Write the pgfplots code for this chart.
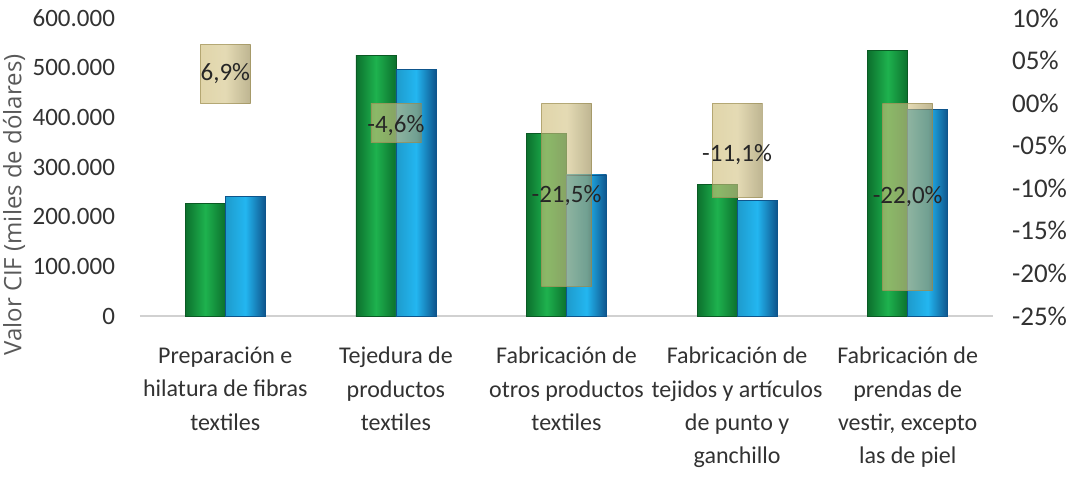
\documentclass[border=0pt]{standalone}
\usepackage{pgfplots}
\pgfplotsset{compat=1.18}
\usepackage{pgfplotstable}
\usepackage{fontspec}
\setmainfont{Carlito}
\newfontfamily\labfont{Open Sans}
\definecolor{gr}{RGB}{30,178,78}
\definecolor{grd}{RGB}{12,112,45}
\definecolor{bl}{RGB}{35,182,240}
\definecolor{bld}{RGB}{14,85,140}
\definecolor{kh}{RGB}{206,188,118}
\definecolor{khd}{RGB}{150,136,78}
\definecolor{tk}{RGB}{50,50,50}
\definecolor{lab}{RGB}{89,89,89}

\pgfplotstableread{
x green blue
0 227000 240000
1 525000 497000
2 368000 284000
3 264000 233000
4 535000 415000
}\cif

\pgfplotstableread{
x var
0 6.9
1 -4.6
2 -21.5
3 -11.1
4 -22.0
}\variacion

\pgfplotsset{only cat/.style={x filter/.expression={abs(x-#1)<0.1 ? x : nan}}}

\begin{document}
\begin{tikzpicture}
\begin{axis}[
  name=main, at={(0,0)}, anchor=south west,
  scale only axis, width=426.5pt, height=149pt,
  xmin=-0.5, xmax=4.5, ymin=0, ymax=600000,
  scaled y ticks=false,
  axis x line*=bottom, axis y line*=left,
  x axis line style={draw=black!18, line width=0.8pt, -},
  y axis line style={draw=none},
  major tick length=0pt,
  ytick={0,100000,200000,300000,400000,500000,600000},
  yticklabels={0,100.000,200.000,300.000,400.000,500.000,600.000},
  yticklabel style={font=\fontsize{12.5}{14}\selectfont, text=tk, xshift=-9pt},
  xtick={0,1,2,3,4},
  xticklabels={{Preparación e\\hilatura de fibras\\textiles},
               {Tejedura de\\productos\\textiles},
               {Fabricación de\\otros productos\\textiles},
               {Fabricación de\\tejidos y artículos\\de punto y\\ganchillo},
               {Fabricación de\\prendas de\\vestir, excepto\\las de piel}},
  xticklabel style={font=\fontsize{12}{16.7}\selectfont, text=tk, align=center, anchor=north, yshift=-12pt},
  clip=false,
]
\pgfplotsinvokeforeach{0,1,2,3,4}{
\addplot[ybar, bar width=20pt, bar shift=-10pt, draw=grd!80!black, line width=0.4pt,
  left color=grd, right color=grd, middle color=gr, only cat=#1]
  table[x=x,y=green]{\cif};
\addplot[ybar, bar width=20pt, bar shift=10pt, draw=bld, line width=0.4pt,
  left color=bl!85!black, right color=bld, middle color=bl, only cat=#1]
  table[x=x,y=blue]{\cif};
}
\end{axis}
\begin{axis}[
  at={(0,0)}, anchor=south west,
  scale only axis, width=426.5pt, height=149pt,
  xmin=-0.5, xmax=4.5, ymin=-25, ymax=10,
  axis x line=none, axis y line*=right,
  y axis line style={draw=none},
  major tick length=0pt,
  ytick={-25,-20,-15,-10,-5,0,5,10},
  yticklabels={-25\%,-20\%,-15\%,-10\%,-05\%,00\%,05\%,10\%},
  yticklabel style={font=\fontsize{13.5}{15}\selectfont, text=tk, xshift=6pt},
  clip=false,
]
\pgfplotsinvokeforeach{0,1,2,3,4}{
\addplot[ybar, bar width=25pt, bar shift=0pt, draw=khd, draw opacity=0.6, fill opacity=0.62,
  left color=kh, right color=khd, middle color=kh!88!white, only cat=#1]
  table[x=x,y=var]{\variacion};
}
\addplot[draw=none, mark=none, nodes near coords, point meta=explicit symbolic,
  every node near coord/.style={anchor=center, font=\fontsize{12.5}{14}\selectfont, text=black!85}]
  coordinates {(0,3.45) [6,9\%] (1,-2.6) [-4,6\%] (2,-10.9) [-21,5\%] (3,-6.0) [-11,1\%] (4,-11.0) [-22,0\%]};
\end{axis}
\node[rotate=90, font=\labfont\fontsize{12}{14}\selectfont, text=lab] at (-63pt,55.5pt) {Valor CIF (miles de dólares)};
\pgfresetboundingbox
\useasboundingbox (-70pt,-91pt) rectangle (473pt,158pt);
\end{tikzpicture}
\end{document}
